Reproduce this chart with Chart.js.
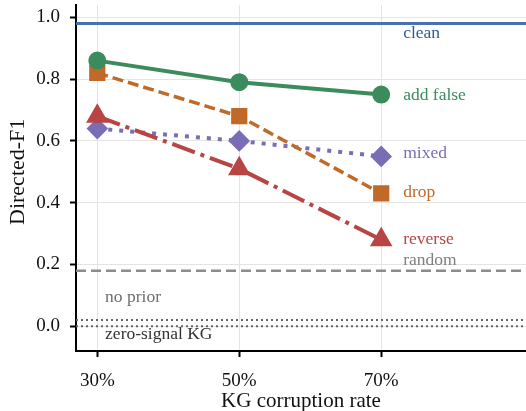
<!DOCTYPE html>
<html>
<head>
<meta charset="utf-8">
<script src="https://cdn.jsdelivr.net/npm/chart.js@4.4.1/dist/chart.umd.min.js"></script>
<style>
html, body { margin: 0; padding: 0; background: #fff; }
</style>
</head>
<body>
<canvas id="chart" width="526" height="411"></canvas>
<script>
const rates = [30, 50, 70];
const addFalse = [0.86, 0.79, 0.75];
const drop = [0.82, 0.68, 0.43];
const mixed = [0.64, 0.60, 0.55];
const reverse = [0.68, 0.51, 0.28];
const cleanScore = 0.98;
const randomScore = 0.18;
const noPriorScore = 0.02;
const zeroSignalScore = 0.0;
const xTicks = [30, 50, 70];
const yTicks = [0, 0.2, 0.4, 0.6, 0.8, 1.0];
const xMin = 27, xMax = 90.4;
const yMin = -0.08, yMax = 1.04;

const FONT = "'Liberation Serif', 'DejaVu Serif', serif";

function pts(values) {
    return rates.map((r, i) => ({ x: r, y: values[i] }));
}
function hline(v) {
    return [{ x: xMin, y: v }, { x: xMax, y: v }];
}

// text labels next to the lines + the y axis title (sits a bit above the axis middle)
const lineLabels = {
    id: 'lineLabels',
    afterDatasetsDraw(chart) {
        const { ctx, scales: { x, y } } = chart;
        const items = [
            { text: 'clean', x: 73.1, y: 0.948, color: '#2c5b9c' },
            { text: 'add false', x: 73.1, y: 0.748, color: '#3b8c5c' },
            { text: 'mixed', x: 73.1, y: 0.558, color: '#7a6db6' },
            { text: 'drop', x: 73.1, y: 0.432, color: '#c06a2a' },
            { text: 'reverse', x: 73.1, y: 0.281, color: '#b84444' },
            { text: 'random', x: 73.1, y: 0.213, color: '#7f7f7f' },
            { text: 'no prior', x: 31.1, y: 0.094, color: '#6e6e6e' },
            { text: 'zero-signal KG', x: 31.1, y: -0.026, color: '#333333' }
        ];
        ctx.save();
        ctx.font = "17.5px " + FONT;
        ctx.textAlign = 'left';
        ctx.textBaseline = 'middle';
        items.forEach(it => {
            ctx.fillStyle = it.color;
            ctx.fillText(it.text, x.getPixelForValue(it.x), y.getPixelForValue(it.y));
        });
        ctx.restore();

        ctx.save();
        ctx.translate(18, y.getPixelForValue(0.5));
        ctx.rotate(-Math.PI / 2);
        ctx.font = "22px " + FONT;
        ctx.fillStyle = '#111';
        ctx.textAlign = 'center';
        ctx.textBaseline = 'middle';
        ctx.fillText('Directed-F1', 0, 0);
        ctx.restore();
    }
};

new Chart(document.getElementById('chart').getContext('2d'), {
    type: 'line',
    data: {
        datasets: [
            {
                label: 'add false', data: pts(addFalse),
                borderColor: '#3b8c5c', backgroundColor: '#3b8c5c',
                borderWidth: 4, pointStyle: 'circle', pointRadius: 7
            },
            {
                label: 'drop', data: pts(drop),
                borderColor: '#c06a2a', backgroundColor: '#c06a2a',
                borderWidth: 3.5, borderDash: [11, 5], pointStyle: 'rect', pointRadius: 9
            },
            {
                label: 'reverse', data: pts(reverse),
                borderColor: '#b84444', backgroundColor: '#b84444',
                borderWidth: 4, borderDash: [24, 6, 4, 6], pointStyle: 'triangle', pointRadius: 9
            },
            {
                label: 'mixed', data: pts(mixed),
                borderColor: '#7a6db6', backgroundColor: '#7a6db6',
                borderWidth: 4, borderDash: [4, 7], pointStyle: 'rectRot', pointRadius: 8
            },
            {
                label: 'clean', data: hline(cleanScore),
                borderColor: '#4872ae', borderWidth: 3, pointRadius: 0
            },
            {
                label: 'random', data: hline(randomScore),
                borderColor: '#8c8c8c', borderWidth: 2.5, borderDash: [10, 5], pointRadius: 0
            },
            {
                label: 'no prior', data: hline(noPriorScore),
                borderColor: '#666666', borderWidth: 2, borderDash: [2, 3], pointRadius: 0
            },
            {
                label: 'zero-signal KG', data: hline(zeroSignalScore),
                borderColor: '#666666', borderWidth: 2, borderDash: [2, 3], pointRadius: 0
            }
        ]
    },
    options: {
        responsive: false,
        animation: false,
        events: [],
        devicePixelRatio: 1,
        layout: { autoPadding: false, padding: { top: 5, right: 0, left: 0, bottom: 0 } },
        plugins: {
            legend: { display: false },
            tooltip: { enabled: false }
        },
        elements: {
            line: { tension: 0, fill: false },
            point: { borderWidth: 0 }
        },
        scales: {
            x: {
                type: 'linear',
                min: xMin, max: xMax,
                afterBuildTicks: s => { s.ticks = xTicks.map(v => ({ value: v })); },
                afterFit: s => { s.height = 60; s.paddingLeft = 0; s.paddingRight = 0; },
                ticks: {
                    color: '#111',
                    font: { family: FONT, size: 19 },
                    padding: 13,
                    maxRotation: 0,
                    callback: v => v + '%'
                },
                grid: { color: '#e4e4e4', lineWidth: 1, tickColor: '#000', tickWidth: 2, tickLength: 6 },
                border: { display: true, color: '#000', width: 2 },
                title: {
                    display: true, text: 'KG corruption rate', color: '#111',
                    font: { family: FONT, size: 21 }, padding: { top: 0, bottom: -3 }
                }
            },
            y: {
                type: 'linear',
                min: yMin, max: yMax,
                afterBuildTicks: s => { s.ticks = yTicks.map(v => ({ value: v })); },
                afterFit: s => { s.width = 76; s.paddingTop = 0; s.paddingBottom = 0; },
                ticks: {
                    color: '#111',
                    font: { family: FONT, size: 19 },
                    padding: 10,
                    callback: v => v.toFixed(1)
                },
                grid: { color: '#e4e4e4', lineWidth: 1, tickColor: '#000', tickWidth: 2, tickLength: 6 },
                border: { display: true, color: '#000', width: 2 }
            }
        }
    },
    plugins: [lineLabels]
});
</script>
</body>
</html>
